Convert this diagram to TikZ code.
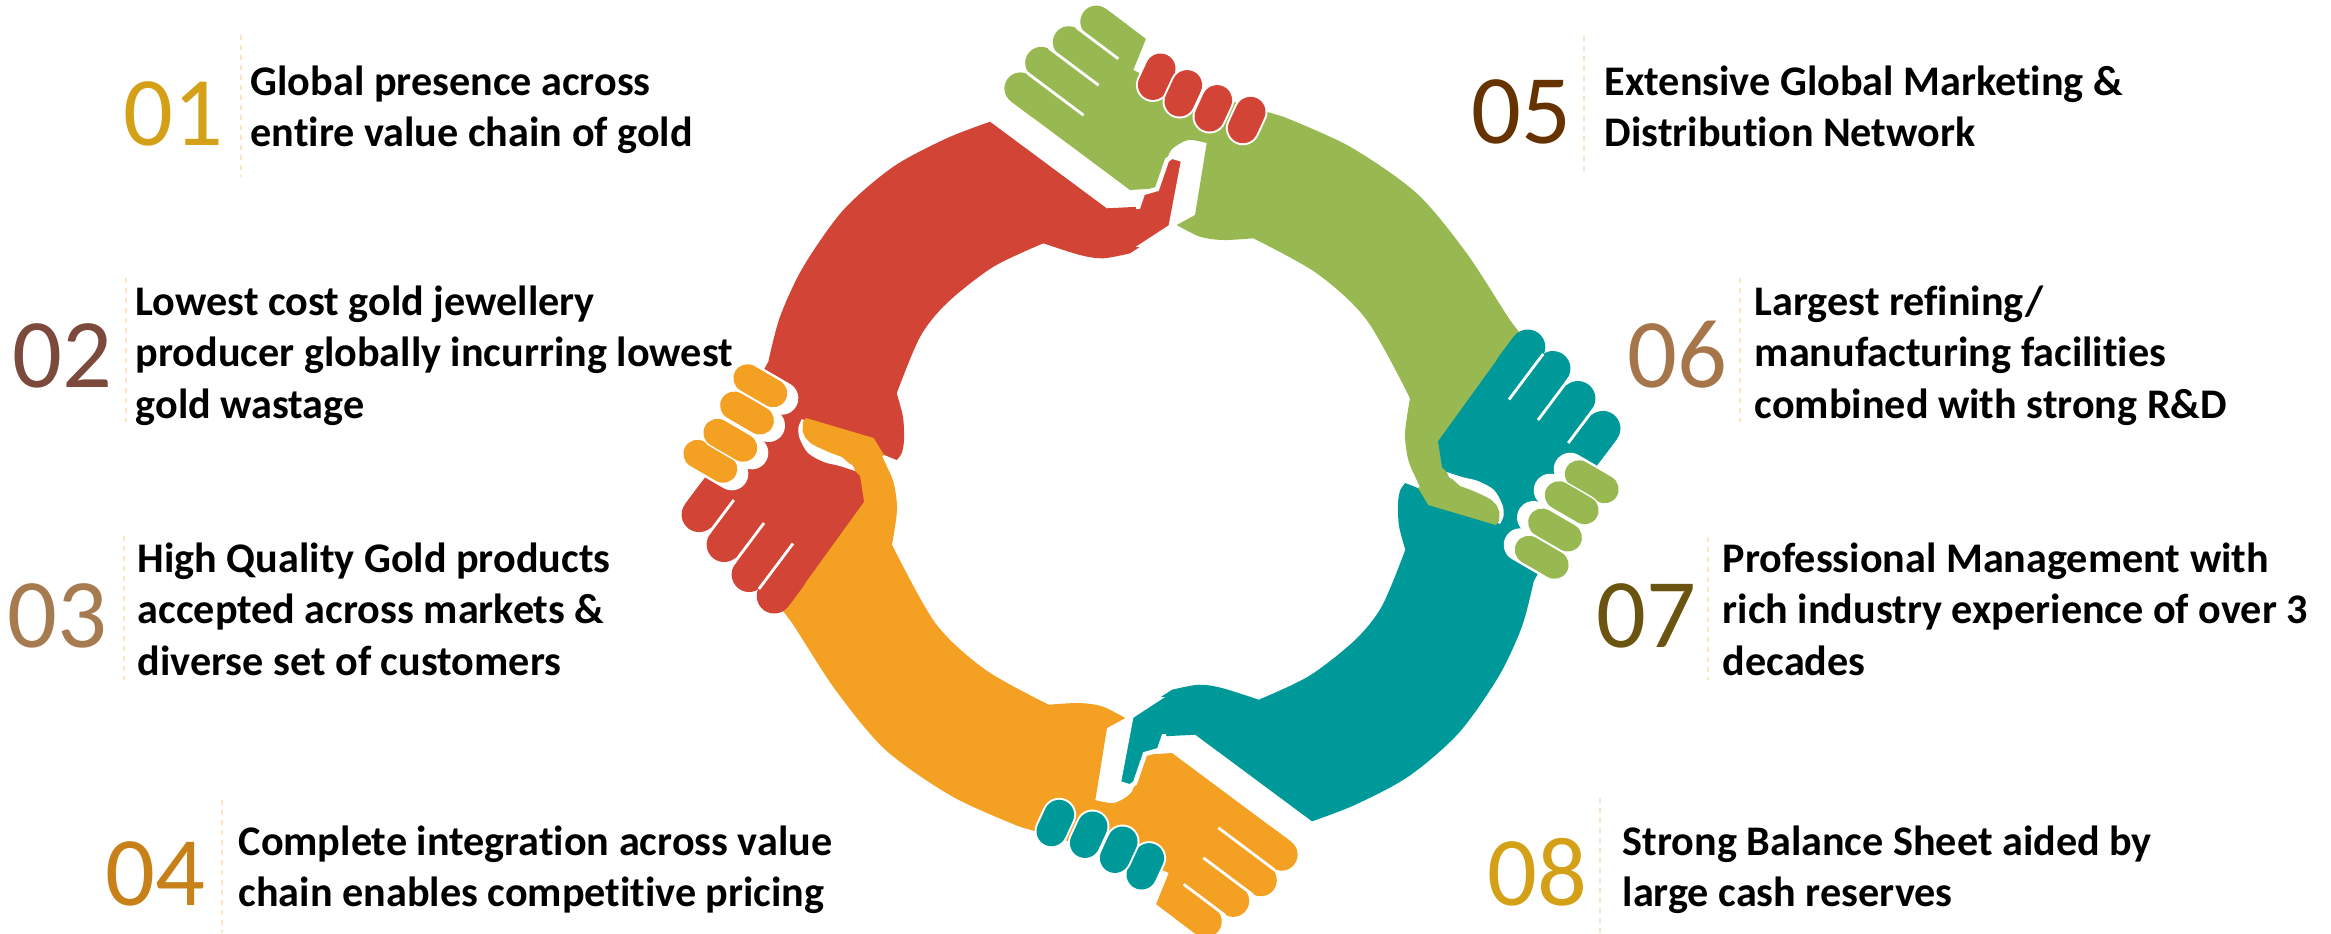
\documentclass[tikz,border=0pt]{standalone}
\usepackage{fontspec}
\setmainfont{Carlito}[Ligatures={NoCommon}]
\definecolor{redc}{HTML}{D24435}
\definecolor{greenc}{HTML}{98B952}
\definecolor{tealc}{HTML}{009999}
\definecolor{orangec}{HTML}{F4A023}
\definecolor{numA}{HTML}{D4A017}
\definecolor{numB}{HTML}{7B4A3C}
\definecolor{numC}{HTML}{A67B50}
\definecolor{numD}{HTML}{C88019}
\definecolor{numE}{HTML}{663300}
\definecolor{numF}{HTML}{A6754A}
\definecolor{numG}{HTML}{6B5310}
\definecolor{numH}{HTML}{D4A017}
\definecolor{sepc}{HTML}{FCE4C4}
\def\redbody{(990,121.7) -- (1106.7,208.3) -- (1138.3,206.7) -- (1143,193) -- (1157,189) -- (1167,160) -- (1172,156.5) -- (1183.3,160) -- (1170.7,226.7) -- (1130,253.3)
 -- plot[smooth] coordinates {(1130,253.3) (1103.3,258.3) (1080,255) (1043.3,243.3)}
 -- plot[smooth] coordinates {(1043.3,243.3) (993,267) (947,303) (920,337) (896.7,393.3)}
 -- plot[smooth] coordinates {(896.7,393.3) (903,417) (904,440) (901.7,453) (896.7,460)}
 -- (872,450) -- (852,468) -- (860,476) -- (864,501.7) -- (788.2,606.5)
 -- (774.2,596) -- (749.1,574.5) -- (724.1,544.5) -- (699.1,514.6) -- (685.1,504.1) -- (704.4,478.3) -- (768.3,361.7)
 -- plot[smooth] coordinates {(768.3,361.7) (780,316.7) (803.3,266.7) (843.3,210) (893.3,166.7) (946.7,138.3) (990,121.7)} -- cycle}
\def\redfingers{\foreach \fx/\fy in {699.1/514.6,724.1/544.5,749.1/574.5,774.2/596}{\draw[line width=3.5mm,line cap=round] (\fx,\fy) -- ++(15,-20);}}
\def\redslits{\draw[white,line width=0.28mm] (708.6,533.6) -- (733.8,500) (731.4,566.5) -- (764,523) (758.8,589.1) -- (793,543.5);}
\def\greenbody{(1105.9,8.8) -- (1096.3,21.6) -- (1068.8,42.2) -- (1041.2,62.8) -- (1020.4,88.4) -- (1010.8,101.2) -- (1130,190) -- (1156.7,188.3) -- (1166.7,160)
 -- plot[smooth] coordinates {(1166.7,160) (1172,149) (1188,140) (1206.7,143)}
 -- (1195,215) -- (1176.7,225)
 -- plot[smooth] coordinates {(1176.7,225) (1200,236.7) (1223.3,240) (1253.3,238.3)}
 -- plot[smooth] coordinates {(1253.3,238.3) (1316.7,273.3) (1366.7,320) (1410,398.3)}
 -- plot[smooth] coordinates {(1410,398.3) (1405,433.3) (1408.3,460) (1416.7,480) (1428.3,505)}
 -- (1496,525) -- (1499,521) -- (1499.5,512) -- (1497,506)
 -- plot[smooth] coordinates {(1497,506) (1490,499) (1473.3,491) (1460,486)}
 -- (1452,479) -- (1447,448) -- (1528,342)
 -- plot[smooth] coordinates {(1528,342) (1510,320) (1466.7,253.3) (1416.7,193.3) (1350,146.7) (1283.3,116.7)}
 -- (1266.7,111.7) -- (1200,92) -- (1150,78) -- (1133.3,70) -- (1145.9,38.8) -- cycle}
\def\greenfingers{\foreach \fx/\fy in {1096.3/21.6,1068.8/42.2,1041.2/62.8,1020.4/88.4}{\draw[line width=3.2mm,line cap=round] (\fx,\fy) -- ++(20,15);}}
\def\greenslits{\draw[white,line width=0.28mm] (1076.8,27.6) -- (1118.4,58.8) (1049,48) -- (1098.6,85.2) (1027.6,73.2) -- (1083.6,115.2);}
\def\greencres{plot[smooth] coordinates {(1447,472) (1462,477) (1478,481) (1494,490) (1502.5,505) (1503.5,516) (1500,524)} -- (1480,512) -- (1455,495) -- cycle}
\def\greenthumb{(1418,488) -- (1428.3,505) -- (1496,525) -- (1499,521) -- (1499.5,512) -- (1497,506) -- plot[smooth] coordinates {(1497,506) (1490,499) (1473.3,491) (1460,486)} -- (1452,479) -- (1440,474) -- cycle}
\def\topgrip{\foreach \fx/\fy in {1156.7/76.7,1183.3/93.3,1213.3/108.3,1246.7/120}{\draw[white,line width=3.4mm,line cap=round] (\fx-3.8,\fy+8.2) -- (\fx+3.8,\fy-8.2); \draw[line width=3mm,line cap=round] (\fx-3.8,\fy+8.2) -- (\fx+3.8,\fy-8.2);}}
\def\sidegrip{\foreach \fx/\fy in {1591.7/481.7,1571.7/502.7,1555/530,1541.7/557.3}{\draw[white,line width=3.3mm,line cap=round] (\fx-21.5,\fy-12.5) -- (\fx+4.3,\fy+2.5);}
 \foreach \fx/\fy in {1591.7/481.7,1571.7/502.7,1555/530,1541.7/557.3}{\draw[white,line width=3.1mm,line cap=round] (\fx-12.9,\fy-7.5) -- (\fx+12.9,\fy+7.5); \draw[line width=2.8mm,line cap=round] (\fx-12.9,\fy-7.5) -- (\fx+12.9,\fy+7.5);}}
\tikzset{
 num/.style={font=\fontsize{28}{30}\selectfont, inner sep=0pt, anchor=base east},
 txt/.style={font=\fontsize{12}{14.7}\selectfont\bfseries, inner sep=0pt, anchor=base west},
 sep/.style={draw=sepc, line width=0.2mm, dash pattern=on 0.5mm off 0.5mm}
}
\begin{document}
\begin{tikzpicture}[x=0.1mm,y=-0.1mm]
\useasboundingbox (0,0) rectangle (2331,933);
% ---- base layer
\fill[greenc] \greenbody;
\begin{scope}[greenc] \greenfingers \end{scope}
\greenslits
\begin{scope}[rotate around={180:(1151,471.5)}]
 \fill[tealc] \redbody;
 \begin{scope}[tealc] \redfingers \end{scope}
 \redslits
 \fill[orangec] \greenbody;
 \begin{scope}[orangec] \greenfingers \end{scope}
 \greenslits
\end{scope}
\fill[redc] \redbody;
\begin{scope}[redc] \redfingers \end{scope}
\redslits
% ---- gripping thumbs
\begin{scope}
 \clip (1136,148) rectangle (1200,246);
 \filldraw[fill=redc,draw=white,line width=0.45mm] \redbody;
\end{scope}
\fill[white] \greencres;
\fill[greenc] \greenthumb;
\begin{scope}[rotate around={180:(1151,471.5)}]
 \begin{scope}
  \clip (1136,148) rectangle (1200,246);
  \filldraw[fill=tealc,draw=white,line width=0.45mm] \redbody;
 \end{scope}
 \fill[white] \greencres;
 \fill[orangec] \greenthumb;
\end{scope}
% ---- gripping fingers
\begin{scope}[redc] \topgrip \end{scope}
\begin{scope}[greenc] \sidegrip \end{scope}
\begin{scope}[rotate around={180:(1151,471.5)}]
 \begin{scope}[tealc] \topgrip \end{scope}
 \begin{scope}[orangec] \sidegrip \end{scope}
\end{scope}
% ---- separators
\coordinate (d1a) at (241,35);   \coordinate (d1b) at (241,177);
\coordinate (d2a) at (126,278);  \coordinate (d2b) at (126,422);
\coordinate (d3a) at (124,536);  \coordinate (d3b) at (124,680);
\coordinate (d4a) at (222,800);  \coordinate (d4b) at (222,933);
\coordinate (d5a) at (1584,36);  \coordinate (d5b) at (1584,176);
\coordinate (d6a) at (1740,278); \coordinate (d6b) at (1740,422);
\coordinate (d7a) at (1708,537); \coordinate (d7b) at (1708,680);
\coordinate (d8a) at (1600,798); \coordinate (d8b) at (1600,933);
\foreach \i in {1,...,8}{\draw[sep] (d\i a) -- (d\i b);}
% ---- numbers
\node[num,text=numA] (n01) at (224,145) {01};
\node[num,text=numB] (n02) at (113,387) {02};
\node[num,text=numC] (n03) at (108,647) {03};
\node[num,text=numD] (n04) at (206,905) {04};
\node[num,text=numE] (n05) at (1572,143) {05};
\node[num,text=numF] (n06) at (1728,387) {06};
\node[num,text=numG] (n07) at (1697,647) {07};
\node[num,text=numH] (n08) at (1588,905) {08};
% ---- texts
\node[txt] (t01) at (250,95) {\begin{tabular}[t]{@{}l@{}}Global presence across\\entire value chain of gold\end{tabular}};
\node[txt] (t02) at (135,315) {\begin{tabular}[t]{@{}l@{}}Lowest cost gold jewellery\\producer globally incurring lowest\\gold wastage\end{tabular}};
\node[txt] (t03) at (137,572) {\begin{tabular}[t]{@{}l@{}}High Quality Gold products\\accepted across markets \&\\diverse set of customers\end{tabular}};
\node[txt] (t04) at (238,855) {\begin{tabular}[t]{@{}l@{}}Complete integration across value\\chain enables competitive pricing\end{tabular}};
\node[txt] (t05) at (1604,95) {\begin{tabular}[t]{@{}l@{}}Extensive Global Marketing \&\\Distribution Network\end{tabular}};
\node[txt] (t06) at (1754,315) {\begin{tabular}[t]{@{}l@{}}Largest refining/\\manufacturing facilities\\combined with strong R\&D\end{tabular}};
\node[txt] (t07) at (1722,572) {\begin{tabular}[t]{@{}l@{}}Professional Management with\\rich industry experience of over 3\\decades\end{tabular}};
\node[txt] (t08) at (1622,855) {\begin{tabular}[t]{@{}l@{}}Strong Balance Sheet aided by\\large cash reserves\end{tabular}};
\end{tikzpicture}
\end{document}
